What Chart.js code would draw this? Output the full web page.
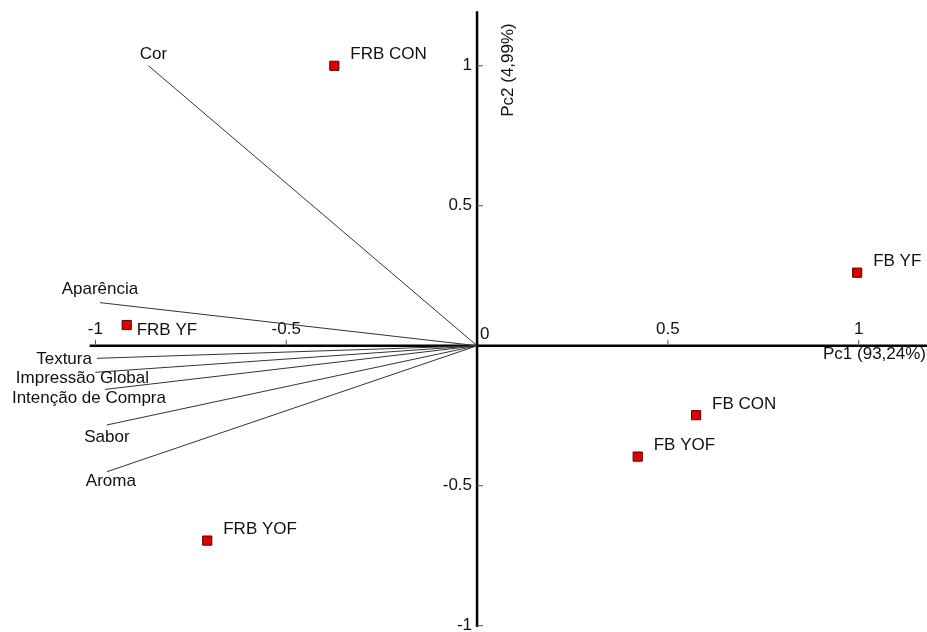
<!DOCTYPE html>
<html lang="pt">
<head>
<meta charset="UTF-8">
<title>PCA - Pc1 x Pc2</title>
<script src="https://cdn.jsdelivr.net/npm/chart.js"></script>
<style>
    body { margin: 0; background: #fff; }
    #wrap { width: 927px; height: 632px; position: relative; }
</style>
</head>
<body>
<div id="wrap"><canvas id="pca"></canvas></div>
<script>
    // samples (scores)
    const sampleNames = ["FRB CON", "FB YF", "FRB YF", "FB CON", "FB YOF", "FRB YOF"];
    const sampleX = [-0.374, 0.996, -0.918, 0.574, 0.421, -0.707];
    const sampleY = [1.0, 0.261, 0.074, -0.248, -0.396, -0.696];

    // attributes (loadings)
    const attrNames = ["Cor", "Aparência", "Textura", "Impressão Global", "Intenção de Compra", "Sabor", "Aroma"];
    const attrX = [-0.861, -0.988, -0.996, -1.0, -0.975, -0.970, -0.970];
    const attrY = [1.0, 0.154, -0.045, -0.095, -0.156, -0.283, -0.450];

    const xTicks = [-1, -0.5, 0.5, 1];
    const xTickLabels = ["-1", "-0.5", "0.5", "1"];
    const yTicks = [-1, -0.5, 0.5, 1];
    const yTickLabels = ["-1", "-0.5", "0.5", "1"];
    const xTitle = "Pc1 (93,24%)";
    const yTitle = "Pc2 (4,99%)";

    // label placement, pixels from the vector tip: [dx, dy, align]
    const attrLabelPos = [[5, -11, "center"], [0, -13, "center"], [-5, 1, "right"], [-13, 6, "center"],
                          [-16, 9, "center"], [0, 12, "center"], [4, 10, "center"]];

    const font = '17px "Liberation Sans", Arial, sans-serif';

    const attrSets = attrNames.map((name, i) => ({
        type: "line",
        label: name,
        data: [{ x: 0, y: 0 }, { x: attrX[i], y: attrY[i] }],
        borderColor: "#333",
        borderWidth: 1,
        pointRadius: 0,
        fill: false
    }));

    const axesPlugin = {
        id: "pcaAxes",
        beforeDatasetsDraw(chart) {
            const ctx = chart.ctx;
            const xs = chart.scales.x, ys = chart.scales.y;
            const x0 = xs.getPixelForValue(0), y0 = ys.getPixelForValue(0);
            ctx.save();
            ctx.strokeStyle = "#000";
            ctx.lineWidth = 2.5;
            ctx.beginPath();
            ctx.moveTo(xs.getPixelForValue(-1.015), y0);
            ctx.lineTo(chart.width, y0);
            ctx.moveTo(x0, ys.getPixelForValue(1.195));
            ctx.lineTo(x0, ys.getPixelForValue(-1.005));
            ctx.stroke();

            ctx.lineWidth = 1;
            ctx.strokeStyle = "#555";
            ctx.fillStyle = "#111";
            ctx.font = font;
            ctx.textBaseline = "middle";
            ctx.textAlign = "center";
            xTicks.forEach((v, i) => {
                const px = xs.getPixelForValue(v);
                ctx.beginPath();
                ctx.moveTo(px, y0);
                ctx.lineTo(px, y0 - 6);
                ctx.stroke();
                ctx.fillText(xTickLabels[i], px, y0 - 16);
            });
            ctx.textAlign = "right";
            yTicks.forEach((v, i) => {
                const py = ys.getPixelForValue(v);
                ctx.beginPath();
                ctx.moveTo(x0, py);
                ctx.lineTo(x0 + 6, py);
                ctx.stroke();
                ctx.fillText(yTickLabels[i], x0 - 5, py);
            });
            ctx.textAlign = "left";
            ctx.fillText("0", x0 + 3, y0 - 11);

            ctx.textAlign = "right";
            ctx.fillText(xTitle, chart.width - 1, y0 + 9);

            ctx.save();
            ctx.translate(x0 + 31, ys.getPixelForValue(0.985));
            ctx.rotate(-Math.PI / 2);
            ctx.textAlign = "center";
            ctx.fillText(yTitle, 0, 0);
            ctx.restore();
            ctx.restore();
        },
        afterDatasetsDraw(chart) {
            const ctx = chart.ctx;
            const xs = chart.scales.x, ys = chart.scales.y;
            ctx.save();
            ctx.font = font;
            ctx.fillStyle = "#111";
            ctx.textBaseline = "middle";
            attrNames.forEach((name, i) => {
                const p = attrLabelPos[i];
                ctx.textAlign = p[2];
                ctx.fillText(name, xs.getPixelForValue(attrX[i]) + p[0], ys.getPixelForValue(attrY[i]) + p[1]);
            });
            ctx.textAlign = "left";
            sampleNames.forEach((name, i) => {
                const px = xs.getPixelForValue(sampleX[i]);
                const py = ys.getPixelForValue(sampleY[i]);
                if (name === "FRB YF") ctx.fillText(name, px + 10, py + 5);
                else ctx.fillText(name, px + 16, py - 11);
            });
            ctx.restore();
        }
    };

    new Chart(document.getElementById("pca"), {
        type: "scatter",
        data: {
            datasets: [{
                label: "Amostras",
                data: sampleNames.map((n, i) => ({ x: sampleX[i], y: sampleY[i] })),
                pointStyle: "rect",
                pointRadius: 6.5,
                backgroundColor: "#e00000",
                borderColor: "#5a0000",
                borderWidth: 1
            }, ...attrSets]
        },
        options: {
            responsive: true,
            maintainAspectRatio: false,
            animation: false,
            layout: { padding: 0, autoPadding: false },
            plugins: { legend: { display: false }, tooltip: { enabled: false } },
            scales: {
                x: { type: "linear", min: -1.25, max: 1.179, display: false },
                y: { type: "linear", min: -1.0225, max: 1.235, display: false }
            }
        },
        plugins: [axesPlugin]
    });
</script>
</body>
</html>
